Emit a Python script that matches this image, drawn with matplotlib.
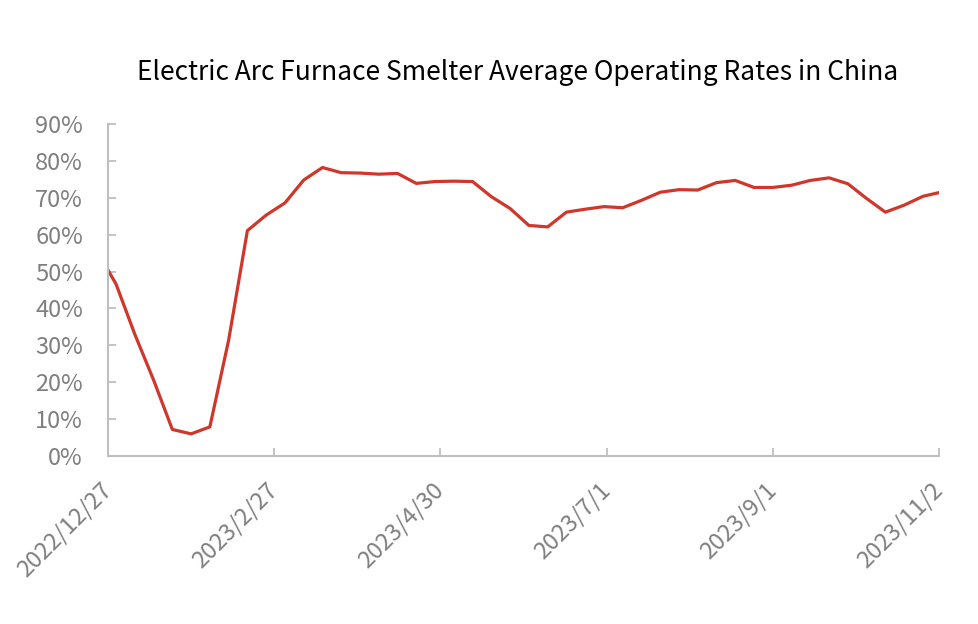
import matplotlib
matplotlib.use("Agg")
import matplotlib.pyplot as plt
from matplotlib.ticker import FuncFormatter
import pandas as pd

plt.rcParams['font.family'] = ['Noto Sans CJK SC', 'DejaVu Sans']

dates = ["2022-12-27", "2022-12-30", "2023-01-06", "2023-01-13", "2023-01-20", "2023-01-27",
         "2023-02-03", "2023-02-10", "2023-02-17", "2023-02-24", "2023-03-03", "2023-03-10",
         "2023-03-17", "2023-03-24", "2023-03-31", "2023-04-07", "2023-04-14", "2023-04-21",
         "2023-04-28", "2023-05-05", "2023-05-12", "2023-05-19", "2023-05-26", "2023-06-02",
         "2023-06-09", "2023-06-16", "2023-06-23", "2023-06-30", "2023-07-07", "2023-07-14",
         "2023-07-21", "2023-07-28", "2023-08-04", "2023-08-11", "2023-08-18", "2023-08-25",
         "2023-09-01", "2023-09-08", "2023-09-15", "2023-09-22", "2023-09-29", "2023-10-06",
         "2023-10-13", "2023-10-20", "2023-10-27", "2023-11-02"]
rates = [50.4, 46.6, 33.0, 20.6, 7.2, 6.0,
         7.9, 31.4, 61.1, 65.3, 68.6, 74.8,
         78.2, 76.8, 76.7, 76.4, 76.6, 73.9,
         74.4, 74.5, 74.4, 70.3, 67.1, 62.5,
         62.1, 66.1, 66.9, 67.6, 67.3, 69.3,
         71.5, 72.2, 72.1, 74.1, 74.7, 72.8,
         72.8, 73.4, 74.7, 75.4, 73.8, 69.8,
         66.1, 68.0, 70.4, 71.4]
tick_dates = ["2022-12-27", "2023-02-27", "2023-04-30", "2023-07-01", "2023-09-01", "2023-11-02"]
tick_labels = ["2022/12/27", "2023/2/27", "2023/4/30", "2023/7/1", "2023/9/1", "2023/11/2"]
title = "Electric Arc Furnace Smelter Average Operating Rates in China"

x = pd.to_datetime(dates)
y = [v / 100 for v in rates]

fig = plt.figure(figsize=(9.79, 6.24), dpi=100)
ax = fig.add_axes([108 / 979, 1 - 456 / 624, (939 - 108) / 979, (456 - 124) / 624])
ax.plot(x, y, color='#D0362A', linewidth=2.3, solid_joinstyle='round')

ax.set_xlim(pd.Timestamp(tick_dates[0]), pd.Timestamp(tick_dates[-1]))
ax.set_ylim(0, 0.9)
ax.set_yticks([i / 10 for i in range(10)])
ax.yaxis.set_major_formatter(FuncFormatter(lambda v, p: f"{v * 100:.0f}%"))
ax.set_xticks(pd.to_datetime(tick_dates))
ax.set_xticklabels(tick_labels, rotation=45, ha='right', va='center', rotation_mode='anchor')

gray = '#BFBFBF'
for s in ['top', 'right']:
    ax.spines[s].set_visible(False)
for s in ['left', 'bottom']:
    ax.spines[s].set_color(gray)
    ax.spines[s].set_linewidth(1.5)
ax.tick_params(axis='both', direction='in', length=6, width=1.3, color=gray,
               labelcolor='#7F7F7F')
ax.tick_params(axis='y', pad=18, labelsize=17)
ax.tick_params(axis='x', pad=22, labelsize=17)

fig.text(518 / 979, 1 - 72 / 624, title, ha='center', va='center', fontsize=19, color='#000000')

fig.savefig("out.png", dpi=100)
